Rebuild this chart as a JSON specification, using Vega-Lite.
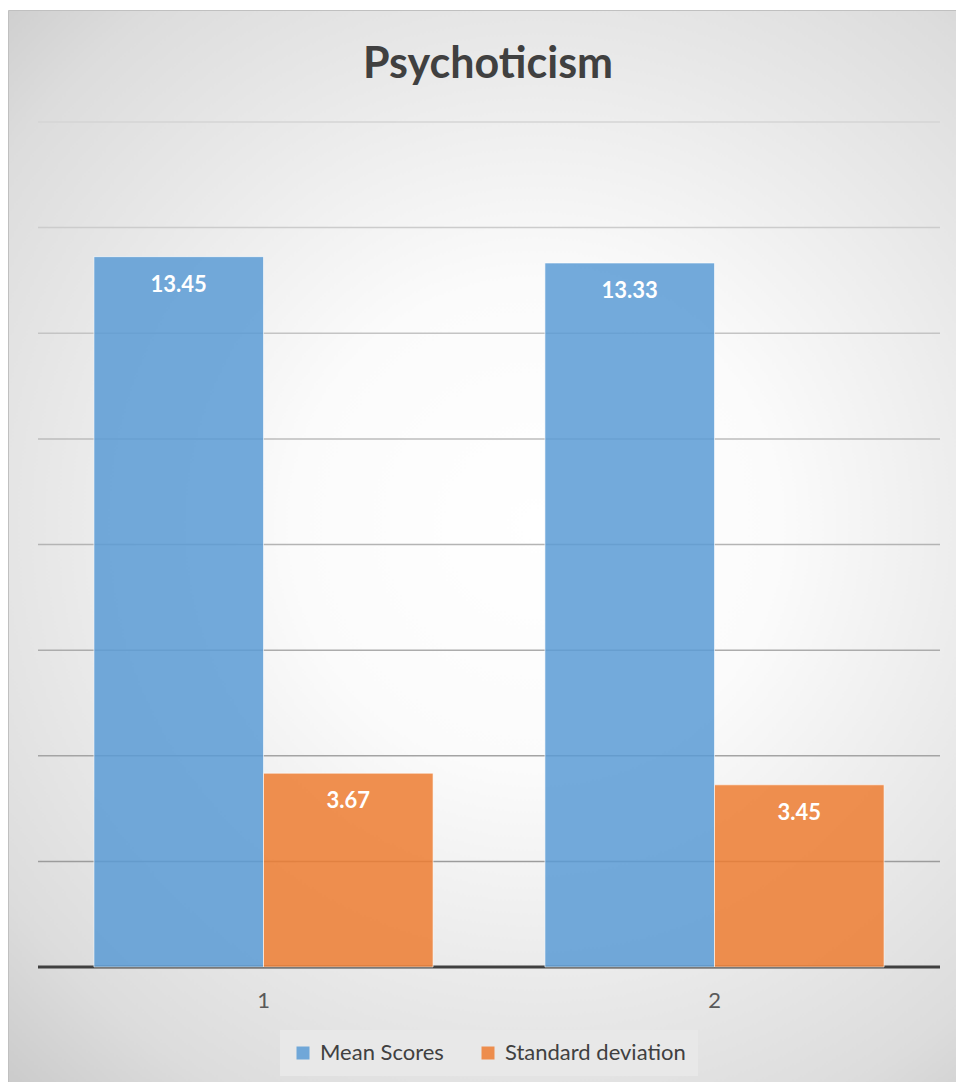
{
  "$schema": "https://vega.github.io/schema/vega-lite/v6.json",
  "width": 948,
  "height": 1072,
  "autosize": "none",
  "padding": {"left": 8, "top": 10, "right": 0, "bottom": 0},
  "background": "#ffffff",
  "title": {
    "text": "Psychoticism",
    "font": "Lato",
    "fontSize": 43,
    "fontWeight": "bold",
    "color": "#404040",
    "anchor": "middle",
    "frame": "group",
    "baseline": "alphabetic",
    "offset": 0,
    "dx": 6,
    "dy": 111
  },
  "layer": [
    {
      "data": {"values": [{"v": 2}, {"v": 4}, {"v": 6}, {"v": 8}, {"v": 10}, {"v": 12}, {"v": 14}, {"v": 16}]},
      "mark": {"type": "rule", "strokeWidth": 1.5},
      "encoding": {
        "x": {"datum": 0, "type": "quantitative", "scale": {"domain": [0, 1], "range": [30, 932]}, "axis": null},
        "x2": {"datum": 1},
        "y": {"field": "v", "type": "quantitative", "scale": {"domain": [-2.1775, 18.1207], "nice": false, "zero": false}, "axis": null},
        "stroke": {"field": "v", "type": "quantitative", "scale": {"domain": [2, 16], "range": ["#9c9c9c", "#d4d4d4"]}, "legend": null}
      }
    },
    {
      "data": {"values": [{"v": 0}]},
      "mark": {"type": "rule", "strokeWidth": 3, "color": "#404040"},
      "encoding": {
        "x": {"datum": 0, "type": "quantitative", "scale": {"domain": [0, 1], "range": [30, 932]}, "axis": null},
        "x2": {"datum": 1},
        "y": {"field": "v", "type": "quantitative", "axis": null}
      }
    },
    {
      "data": {
        "values": [
          {"group": "1", "series": "Mean Scores", "value": 13.45},
          {"group": "1", "series": "Standard deviation", "value": 3.67},
          {"group": "2", "series": "Mean Scores", "value": 13.33},
          {"group": "2", "series": "Standard deviation", "value": 3.45}
        ]
      },
      "encoding": {
        "x": {
          "field": "group",
          "type": "nominal",
          "scale": {"range": [30, 932], "paddingInner": 0.248, "paddingOuter": 0.124},
          "axis": {
            "title": null,
            "ticks": false,
            "domain": false,
            "grid": false,
            "labelAngle": 0,
            "labelFont": "Lato",
            "labelFontSize": 22,
            "labelColor": "#595959",
            "labelPadding": 0,
            "offset": -92
          }
        },
        "xOffset": {"field": "series", "type": "nominal", "scale": {"paddingInner": 0, "paddingOuter": 0}},
        "y": {"field": "value", "type": "quantitative", "axis": null}
      },
      "layer": [
        {
          "mark": {"type": "bar", "fillOpacity": 0.85, "stroke": "#ffffff", "strokeOpacity": 0.6, "strokeWidth": 1},
          "encoding": {
            "y2": {"datum": 0},
            "fill": {
              "field": "series",
              "type": "nominal",
              "scale": {"domain": ["Mean Scores", "Standard deviation"], "range": ["#5B9BD5", "#ED7D31"]},
              "legend": {
                "title": null,
                "orient": "none",
                "direction": "horizontal",
                "legendX": 272,
                "legendY": 1020,
                "fillColor": "#e8e8e8",
                "padding": 12,
                "symbolType": "square",
                "symbolSize": 169,
                "symbolOpacity": 0.85,
                "symbolStrokeWidth": 0,
                "labelFont": "Lato",
                "labelFontSize": 22,
                "labelColor": "#404040",
                "labelLimit": 400,
                "labelOffset": 6,
                "columnPadding": 33
              }
            }
          }
        },
        {
          "mark": {"type": "text", "color": "#ffffff", "font": "Lato", "fontSize": 22, "fontWeight": "bold", "baseline": "middle", "dy": 28},
          "encoding": {
            "text": {"field": "value", "type": "quantitative", "format": ".2f"}
          }
        }
      ]
    }
  ],
  "resolve": {"scale": {"x": "independent"}},
  "config": {
    "view": {
      "stroke": "#c0c0c0",
      "fill": {
        "gradient": "radial",
        "x1": 0.55, "y1": 0.48, "r1": 0,
        "x2": 0.55, "y2": 0.48, "r2": 0.75,
        "stops": [
          {"offset": 0, "color": "#ffffff"},
          {"offset": 0.3, "color": "#fbfbfb"},
          {"offset": 0.6, "color": "#e8e8e8"},
          {"offset": 0.8, "color": "#dcdcdc"},
          {"offset": 1, "color": "#c6c6c6"}
        ]
      }
    }
  }
}
